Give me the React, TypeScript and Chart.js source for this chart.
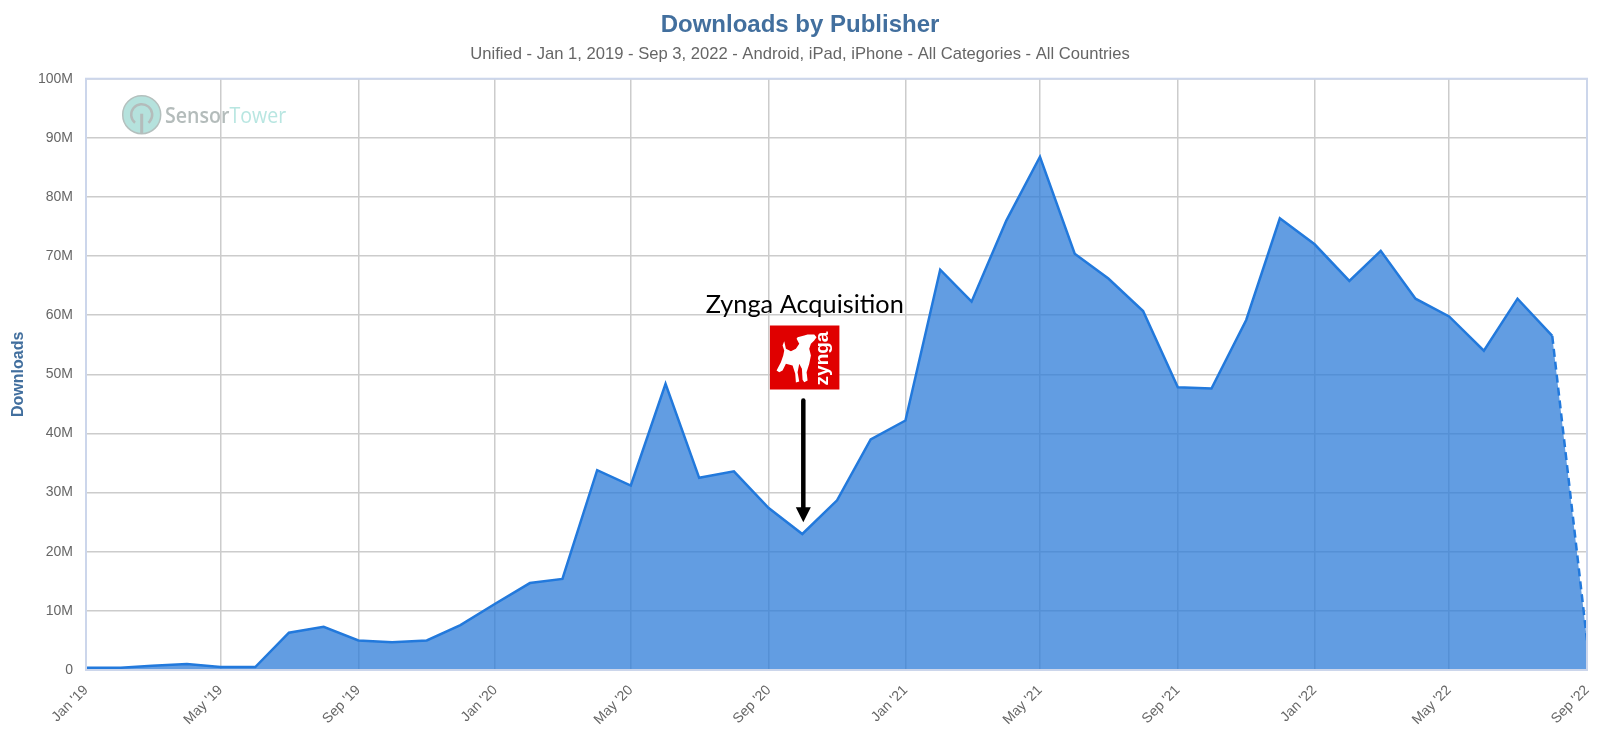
import React, { useEffect, useRef } from "react";
import { Chart, registerables } from "chart.js";

Chart.register(...registerables);

const FONT = "'Liberation Sans', Arial, sans-serif";

const monthNames: string[] = ["Jan", "Feb", "Mar", "Apr", "May", "Jun", "Jul", "Aug", "Sep", "Oct", "Nov", "Dec"];

const months: string[] = [
  "Jan '19", "Feb '19", "Mar '19", "Apr '19", "May '19", "Jun '19", "Jul '19", "Aug '19", "Sep '19", "Oct '19", "Nov '19", "Dec '19",
  "Jan '20", "Feb '20", "Mar '20", "Apr '20", "May '20", "Jun '20", "Jul '20", "Aug '20", "Sep '20", "Oct '20", "Nov '20", "Dec '20",
  "Jan '21", "Feb '21", "Mar '21", "Apr '21", "May '21", "Jun '21", "Jul '21", "Aug '21", "Sep '21", "Oct '21", "Nov '21", "Dec '21",
  "Jan '22", "Feb '22", "Mar '22", "Apr '22", "May '22", "Jun '22", "Jul '22", "Aug '22", "Sep '22",
];

const downloadsM: number[] = [
  0.4, 0.4, 0.7, 1.0, 0.5, 0.5, 6.3, 7.3, 5.0, 4.7, 5.0, 7.6,
  11.2, 14.7, 15.4, 33.8, 31.2, 48.4, 32.5, 33.6, 27.4, 23.0, 28.7, 39.0,
  42.2, 67.7, 62.3, 76.0, 86.8, 70.4, 66.2, 60.7, 47.8, 47.6, 59.2, 76.4,
  72.0, 65.8, 70.9, 62.8, 59.8, 54.0, 62.8, 56.5, 5.0,
];

const acquisitionMonth = "Oct '20";

// Days since the first month: the axis is a true date axis, so months differ in width.
const dayOf = (label: string): number => {
  const [name, yy] = label.split(" '");
  const t = Date.UTC(2000 + Number(yy), monthNames.indexOf(name), 1);
  return (t - Date.UTC(2019, 0, 1)) / 86400000;
};
const points = months.map((m, i) => ({ x: dayOf(m), y: downloadsM[i] }));
const tickMonths = months.filter((_, i) => i % 4 === 0);

const overlay = {
  id: "overlay",
  beforeDatasetsDraw(chart: any) {
    const { ctx } = chart;
    const a = chart.chartArea;
    // watermark
    ctx.save();
    const lx = a.left + 55.7;
    const ly = a.top + 36;
    ctx.beginPath();
    ctx.arc(lx, ly, 19, 0, Math.PI * 2);
    ctx.fillStyle = "#b5e2dd";
    ctx.fill();
    ctx.lineWidth = 1.5;
    ctx.strokeStyle = "#b4c0be";
    ctx.stroke();
    ctx.strokeStyle = "#b4bcbb";
    ctx.lineWidth = 2.5;
    ctx.beginPath();
    ctx.arc(lx, ly, 10.5, Math.PI * 0.72, Math.PI * 2.28);
    ctx.stroke();
    ctx.lineWidth = 3;
    ctx.beginPath();
    ctx.moveTo(lx, ly - 1);
    ctx.lineTo(lx, ly + 19);
    ctx.stroke();
    ctx.translate(a.left + 79, a.top + 44);
    ctx.scale(0.89, 1);
    ctx.font = "600 22px 'Open Sans'";
    ctx.textAlign = "left";
    ctx.textBaseline = "alphabetic";
    ctx.fillStyle = "#b4bcbb";
    ctx.fillText("Sensor", 0, 0);
    const w = ctx.measureText("Sensor").width;
    ctx.font = "400 22px 'Open Sans'";
    ctx.fillStyle = "#b8e6e1";
    ctx.fillText("Tower", w, 0);
    ctx.restore();
  },
  afterDatasetsDraw(chart: any) {
    const { ctx, scales } = chart;
    const a = chart.chartArea;
    // frame
    ctx.save();
    ctx.strokeStyle = "#ccd6eb";
    ctx.lineWidth = 2;
    ctx.strokeRect(a.left, a.top, a.right - a.left, a.bottom - a.top);
    // annotation anchored to the acquisition month
    const cx = scales.x.getPixelForValue(dayOf(acquisitionMonth));
    ctx.fillStyle = "#000";
    ctx.font = "25.3px Lato";
    ctx.textAlign = "center";
    ctx.textBaseline = "alphabetic";
    ctx.fillText("Zynga Acquisition", cx + 2.5, 313);
    // red square
    const sx = cx - 32.4;
    const sy = 325.5;
    ctx.fillStyle = "#e00000";
    ctx.fillRect(sx, sy, 69.5, 64);
    const dog = [
      [55,62],[60,85],[75,92],[90,85],[100,70],[92,55],[95,50],[115,45],[125,42],[145,42],[152,50],[145,60],[135,70],[130,85],
      [135,105],[130,130],[122,155],[125,180],[115,185],[110,178],[108,145],[100,130],[95,155],[100,183],[90,186],[88,160],
      [80,135],[60,130],[50,150],[40,155],[32,150],[45,125],[52,105],[55,90],[50,75],
    ];
    ctx.fillStyle = "#fff";
    ctx.beginPath();
    dog.forEach(([px, py], i) => {
      const dx = sx + (px - 12) / 3;
      const dy = sy + (py - 15) / 3;
      if (i === 0) ctx.moveTo(dx, dy);
      else ctx.lineTo(dx, dy);
    });
    ctx.closePath();
    ctx.fill();
    ctx.save();
    ctx.translate(sx + 53, sy + 33);
    ctx.rotate(-Math.PI / 2);
    ctx.font = "bold 19px 'Liberation Sans'";
    ctx.textAlign = "center";
    ctx.textBaseline = "middle";
    ctx.fillText("zynga", 0, 0);
    ctx.restore();
    // arrow
    const y0 = scales.y.getPixelForValue(45.6);
    const y1 = scales.y.getPixelForValue(25);
    ctx.strokeStyle = "#000";
    ctx.lineWidth = 4.5;
    ctx.lineCap = "round";
    ctx.beginPath();
    ctx.moveTo(cx + 1, y0);
    ctx.lineTo(cx + 1, y1 - 10);
    ctx.stroke();
    ctx.fillStyle = "#000";
    ctx.beginPath();
    ctx.moveTo(cx + 1 - 7.5, y1 - 15);
    ctx.lineTo(cx + 1 + 7.5, y1 - 15);
    ctx.lineTo(cx + 1, y1);
    ctx.closePath();
    ctx.fill();
    ctx.restore();
  },
};

export default function App() {
  const ref = useRef<HTMLCanvasElement | null>(null);
  useEffect(() => {
    if (!ref.current) return;
    const last = points.length - 1;
    const chart = new Chart(ref.current, {
      type: "line",
      data: {
        datasets: [
          {
            label: "Downloads",
            data: points,
            borderColor: "#2279dc",
            borderWidth: 2.5,
            fill: false,
            tension: 0,
            pointRadius: 0,
            segment: {
              borderDash: (c: any) => (c.p1DataIndex === last ? [8, 5] : undefined),
            },
          },
          {
            label: "Downloads area",
            data: points,
            borderWidth: 0,
            backgroundColor: "rgba(45,124,216,0.75)",
            fill: "origin",
            tension: 0,
            pointRadius: 0,
          },
        ],
      },
      options: {
        responsive: false,
        animation: false,
        devicePixelRatio: 1,
        layout: { padding: 0 },
        plugins: {
          legend: { display: false },
          tooltip: { enabled: false },
          title: {
            display: true,
            text: "Downloads by Publisher",
            color: "#426f9e",
            font: { family: FONT, size: 24, weight: "bold" },
            padding: { top: 11, bottom: 5 },
          },
          subtitle: {
            display: true,
            text: "Unified - Jan 1, 2019 - Sep 3, 2022 - Android, iPad, iPhone - All Categories - All Countries",
            color: "#666666",
            font: { family: FONT, size: 16.6 },
            padding: { top: 0, bottom: 14 },
          },
        },
        scales: {
          x: {
            type: "linear",
            min: dayOf(months[0]),
            max: dayOf(months[last]),
            offset: false,
            border: { display: false },
            grid: { drawTicks: false, lineWidth: 1.5, color: "#cccccc" },
            afterBuildTicks: (s: any) => {
              s.ticks = tickMonths.map((m) => ({ value: dayOf(m) }));
            },
            ticks: {
              autoSkip: false,
              includeBounds: false,
              minRotation: 45,
              maxRotation: 45,
              padding: 12,
              color: "#666666",
              font: { family: FONT, size: 14 },
              callback: (v: any) => tickMonths.find((m) => dayOf(m) === v) ?? "",
            },
            afterFit: (s: any) => {
              s.height = 68;
              s.paddingLeft = 0;
              s.paddingRight = 13;
            },
          },
          y: {
            min: 0,
            max: 100,
            border: { display: false },
            grid: { drawTicks: false, lineWidth: 1.5, color: "#cccccc" },
            title: {
              display: true,
              text: "Downloads",
              color: "#426f9e",
              font: { family: FONT, size: 16, weight: "bold" },
              padding: { top: 9, bottom: 0 },
            },
            ticks: {
              stepSize: 10,
              padding: 13,
              color: "#666666",
              font: { family: FONT, size: 14 },
              callback: (v: any) => (v === 0 ? "0" : `${v}M`),
            },
            afterFit: (s: any) => {
              s.width = 86;
            },
          },
        },
      },
      plugins: [overlay],
    } as any);
    return () => chart.destroy();
  }, []);
  return (
    <div style={{ position: "fixed", left: 0, top: 0, width: 1600, height: 738, background: "#fff" }}>
      <canvas ref={ref} width={1600} height={738} style={{ display: "block", width: 1600, height: 738 }} />
    </div>
  );
}
